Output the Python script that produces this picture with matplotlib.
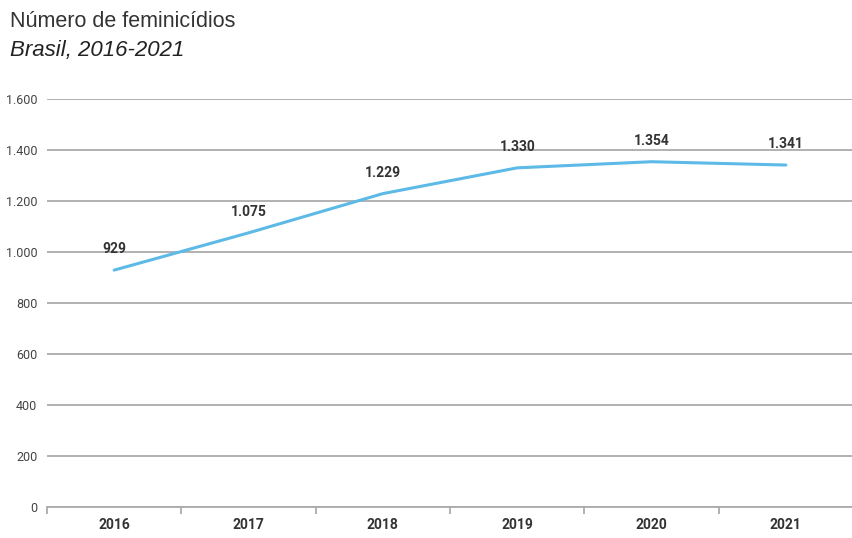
import matplotlib.pyplot as plt
from matplotlib.ticker import FuncFormatter

years = ["2016", "2017", "2018", "2019", "2020", "2021"]
values = [929, 1075, 1229, 1330, 1354, 1341]
yticks = [0, 200, 400, 600, 800, 1000, 1200, 1400, 1600]

cond = ["Roboto", "DejaVu Sans"]

def fmt(v, pos=None):
    return f"{int(v):,}".replace(",", ".")

fig = plt.figure(figsize=(8.53, 5.38), dpi=100)
ax = fig.add_axes([0.0551, 0.0576, 0.945, 0.7584])

x = list(range(len(years)))
ax.plot(x, values, color="#5DB9E6", lw=2.2, solid_capstyle="round")
for xi, v in zip(x, values):
    ax.annotate(fmt(v), (xi, v), xytext=(0, 10), textcoords="offset points",
                ha="center", va="bottom", fontsize=10, color="#333333",
                family=cond, fontweight="bold")

ax.set_xlim(-0.5, 5.5)
ax.set_ylim(0, 1600)
ax.set_yticks(yticks)
ax.yaxis.set_major_formatter(FuncFormatter(fmt))
ax.grid(axis="y", color="#ababab", lw=1.3)
ax.set_axisbelow(True)
for s in ["top", "right", "left"]:
    ax.spines[s].set_visible(False)
ax.spines["bottom"].set_color("#ababab")
ax.spines["bottom"].set_linewidth(1.3)
ax.tick_params(axis="y", length=0, pad=7, labelsize=9, labelcolor="#444444")
ax.set_xticks(x)
ax.set_xticklabels(years, fontweight="bold", fontsize=10, color="#333333", family=cond)
ax.tick_params(axis="x", length=0, pad=8)
ax.set_xticks([i - 0.5 for i in range(len(years))], minor=True)
ax.tick_params(axis="x", which="minor", length=5, color="#ababab", width=1.3)
for lab in ax.get_yticklabels():
    lab.set_family(cond)

fig.text(0.012, 0.96, "Número de feminicídios", fontsize=15.5, color="#333333",
         family=["Liberation Sans", "DejaVu Sans"], va="center")
fig.text(0.012, 0.907, "Brasil, 2016-2021", fontsize=16, style="italic", color="#222222",
         family=["Liberation Sans", "DejaVu Sans"], va="center")

fig.savefig("out.png", dpi=100)
